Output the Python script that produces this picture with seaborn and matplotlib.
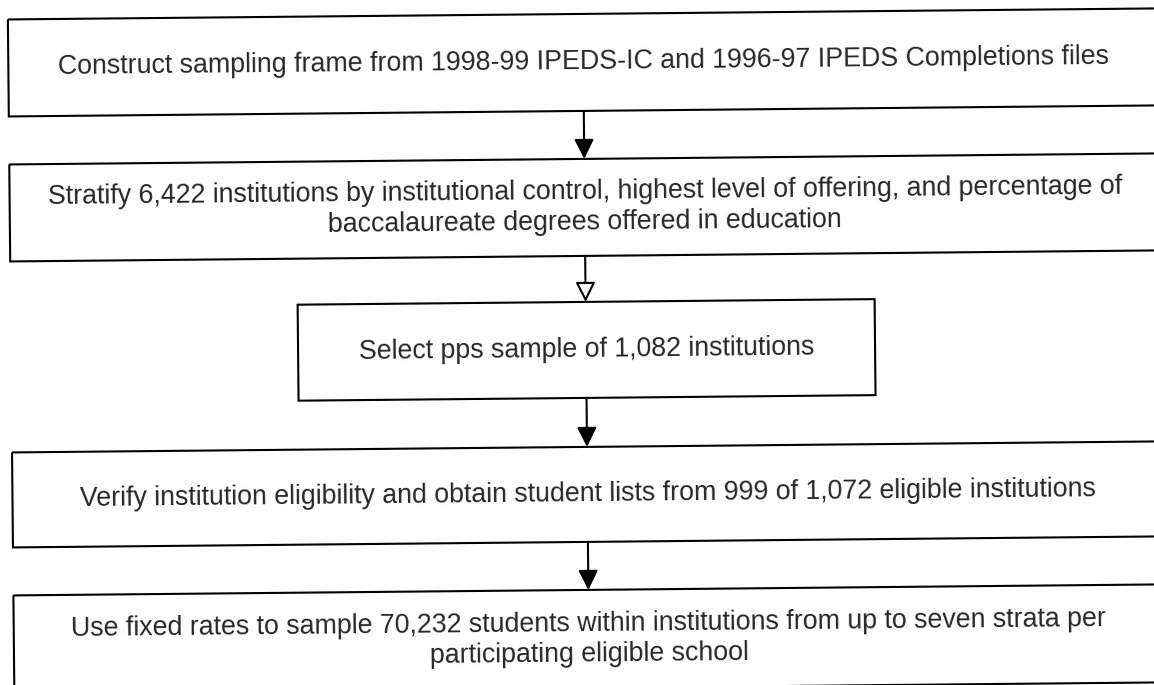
"""
Sampling flow chart (scanned page) redrawn with matplotlib/seaborn.
Saves out.png at 1154x685.
"""

import matplotlib
matplotlib.use("Agg")
import matplotlib.pyplot as plt
from matplotlib.patches import Rectangle, FancyArrowPatch
from matplotlib.transforms import Affine2D
import seaborn as sns

STEPS = [
    "Construct sampling frame from 1998-99 IPEDS-IC and 1996-97 IPEDS Completions files",
    "Stratify 6,422 institutions by institutional control, highest level of offering, and percentage of\n"
    "baccalaureate degrees offered in education",
    "Select pps sample of 1,082 institutions",
    "Verify institution eligibility and obtain student lists from 999 of 1,072 eligible institutions",
    "Use fixed rates to sample 70,232 students within institutions from up to seven strata per\n"
    "participating eligible school",
]
# arrow between step i and i+1; the second head is open in the scan
ARROW_FILLED = [True, False, True, True]

# layout, in pixels of the page: (left, right) and (top, bottom) of each box
BOX_X = [(11, 1161), (11, 1161), (298, 875), (11, 1161), (11, 1161)]
BOX_Y = [(14, 111), (159, 256), (302, 398), (447, 542), (590, 688)]
ARROW_X = 586
SKEW = 0.55  # the scanned page is slightly rotated (degrees)
FONT_SIZE = 19.3


def main():
    sns.set_theme(style="white")
    plt.rcParams["font.family"] = ["Liberation Sans", "DejaVu Sans"]

    fig = plt.figure(figsize=(11.54, 6.85), dpi=100)
    ax = fig.add_axes([0, 0, 1, 1])
    ax.set_xlim(0, 1154)
    ax.set_ylim(685, 0)
    ax.axis("off")

    rot = Affine2D().rotate_deg_around(577, 342, -SKEW)
    tr = rot + ax.transData

    # boxes + labels
    for (x0, x1), (top, bottom), label in zip(BOX_X, BOX_Y, STEPS):
        ax.add_patch(Rectangle((x0, top), x1 - x0, bottom - top, fill=False,
                               lw=1.5, ec="black", transform=tr))
        cx, cy = rot.transform(((x0 + x1) / 2, (top + bottom) / 2))
        ax.text(cx, cy, label, ha="center", va="center", fontsize=FONT_SIZE,
                rotation=SKEW, rotation_mode="anchor", linespacing=1.22)

    # connecting arrows
    for i, filled in enumerate(ARROW_FILLED):
        arrow = FancyArrowPatch((ARROW_X, BOX_Y[i][1]), (ARROW_X, BOX_Y[i + 1][0]),
                                arrowstyle="-|>,head_length=1.2,head_width=0.6",
                                mutation_scale=10, lw=1.5, ec="black",
                                fc="black" if filled else "white",
                                shrinkA=0, shrinkB=0, transform=tr)
        ax.add_patch(arrow)

    fig.savefig("out.png", dpi=100)
    plt.close(fig)


if __name__ == "__main__":
    main()
